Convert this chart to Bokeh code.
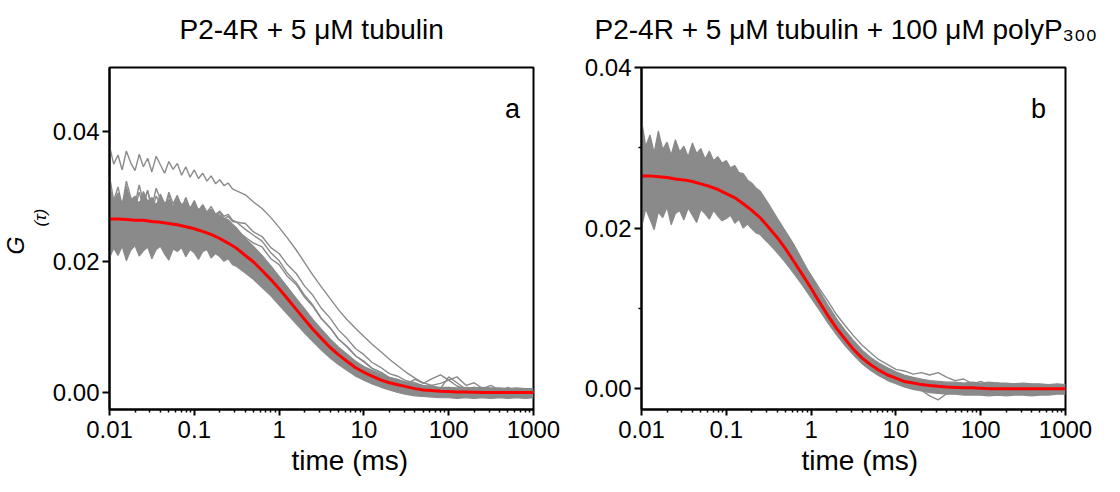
import numpy as np
from bokeh.plotting import figure
from bokeh.layouts import row
from bokeh.models import (FixedTicker, CustomJSTickFormatter, PrintfTickFormatter,
                          Label, Range1d, Title)
from bokeh.embed import file_html
from bokeh.resources import INLINE

# ---------------- data (G values in units of 1e-3) ----------------
# grid used by the fitted curves
time_ms = [0.01, 0.0125, 0.016, 0.02, 0.025, 0.0315, 0.04, 0.05, 0.063, 0.08,
           0.1, 0.125, 0.16, 0.2, 0.25, 0.315, 0.4, 0.5, 0.63, 0.8,
           1, 1.25, 1.6, 2, 2.5, 3.15, 4, 5, 6.3, 8,
           10, 12.5, 16, 20, 25, 31.5, 40, 50, 63, 80,
           100, 125, 160, 200, 250, 315, 400, 500, 630, 800, 1000]
# finer grid for the noisy early part of the measured traces (0.01 - 0.316 ms)
time_early = [0.01, 0.0112, 0.0126, 0.0141, 0.0158, 0.0178, 0.02, 0.0224,
              0.0251, 0.0282, 0.0316, 0.0355, 0.0398, 0.0447, 0.0501, 0.0562,
              0.0631, 0.0708, 0.0794, 0.0891, 0.1, 0.112, 0.126, 0.141, 0.158,
              0.178, 0.2, 0.224, 0.251, 0.282, 0.316]
# coarser grid for the later part (0.4 - 1000 ms)
time_late = [0.4, 0.5, 0.63, 0.8, 1, 1.25, 1.6, 2, 2.5, 3.15, 4, 5, 6.3, 8,
             10, 12.5, 16, 20, 25, 31.5, 40, 50, 63, 80, 100, 125, 160, 200,
             250, 315, 400, 500, 630, 800, 1000]

# ----- panel a -----
a_fit = [26.6, 26.6, 26.5, 26.4, 26.4, 26.2, 26.1, 25.9, 25.7, 25.4,
         25.1, 24.7, 24.2, 23.6, 22.9, 22.1, 21.0, 20.0, 18.7, 17.3,
         15.9, 14.4, 12.7, 11.2, 9.7, 8.3, 6.9, 5.8, 4.8, 3.8,
         3.1, 2.5, 1.9, 1.5, 1.2, 0.9, 0.6, 0.4, 0.3, 0.2,
         0.15, 0.1, 0.1, 0.05, 0.0, 0.0, 0.0, 0.0, 0.0, 0.0, 0.0]
a_band_lo_early = [20.6, 22.1, 21.0, 22.4, 20.2, 21.8, 22.5, 20.9, 21.7, 22.3,
                   20.5, 21.9, 22.4, 21.2, 20.3, 22.0, 21.6, 22.2, 20.8, 21.9,
                   21.4, 20.4, 21.6, 21.9, 20.6, 21.3, 20.8, 20.1, 20.5, 19.6, 19.3]
a_band_hi_early = [31.8, 29.2, 30.6, 28.9, 31.2, 29.5, 30.1, 28.7, 30.8, 29.3,
                   29.9, 28.6, 30.4, 29.0, 29.6, 28.5, 29.9, 28.8, 29.2, 28.3,
                   29.0, 28.0, 28.5, 27.6, 28.1, 27.3, 27.2, 26.7, 26.5, 25.8, 25.2]
a_band_lo_late = [18.3, 17.3, 16.1, 14.8, 13.4, 12.0, 10.5, 9.1, 7.8, 6.5,
                  5.3, 4.3, 3.4, 2.5, 1.9, 1.3, 0.8, 0.4, 0.0, -0.3,
                  -0.5, -0.6, -0.7, -0.8, -0.8, -0.9, -0.8, -0.9, -0.8, -0.9,
                  -0.8, -0.9, -0.8, -0.9, -0.8]
a_band_hi_late = [23.6, 22.4, 21.0, 19.4, 17.8, 16.2, 14.4, 12.8, 11.2, 9.7,
                  8.2, 7.0, 5.9, 4.8, 4.0, 3.4, 2.8, 2.3, 2.0, 1.6,
                  1.3, 1.1, 0.9, 0.8, 0.8, 0.7, 0.8, 0.7, 0.8, 0.7,
                  0.7, 0.6, 0.7, 0.6, 0.6]
a_trace1_early = [31.4, 28.6, 30.2, 27.9, 31.6, 29.0, 28.2, 30.7, 28.4, 31.0,
                  27.8, 30.1, 28.9, 27.6, 30.3, 28.2, 29.5, 27.5, 29.8, 28.0,
                  29.2, 27.4, 28.6, 27.1, 28.0, 27.0, 27.6, 26.6, 27.0, 26.2, 26.1]
a_trace1_late = [25.9, 24.6, 23.9, 22.2, 21.3, 19.6, 18.2, 16.3, 14.9, 12.9,
                 11.4, 9.6, 8.3, 6.7, 5.8, 4.6, 3.8, 2.9, 2.5, 1.8,
                 1.5, 1.0, 0.9, 0.4, 0.8, 0.2, 0.6, 0.0, 0.4, -0.1,
                 0.3, 0.0, 0.4, -0.1, 0.2]
a_trace2_early = [29.8, 27.0, 29.1, 26.5, 30.0, 27.6, 26.8, 29.3, 27.1, 28.6,
                  26.4, 29.0, 27.5, 26.3, 28.7, 26.9, 28.2, 26.2, 28.4, 26.6,
                  27.8, 26.0, 27.3, 25.8, 26.9, 25.6, 26.3, 25.5, 25.6, 24.9, 24.7]
a_trace2_late = [23.8, 22.9, 22.3, 20.5, 19.6, 17.8, 16.5, 14.6, 13.2, 11.3,
                 9.9, 8.2, 7.1, 5.6, 4.8, 3.7, 3.1, 2.3, 2.0, 1.4,
                 1.2, 0.8, 1.1, 0.6, 2.4, 1.5, 0.5, 0.8, 0.2, 0.6,
                 0.1, 0.5, 0.0, 0.4, 0.1]
a_trace3_early = [33.2, 29.4, 31.5, 28.6, 32.4, 29.9, 28.8, 31.8, 29.2, 30.9,
                  28.4, 31.3, 29.6, 28.3, 30.7, 28.9, 30.2, 28.2, 29.9, 28.1,
                  29.4, 27.9, 28.8, 27.6, 28.5, 27.3, 27.8, 27.0, 27.3, 26.4, 26.1]
a_trace3_late = [25.0, 24.1, 23.2, 21.4, 20.2, 18.3, 16.8, 14.9, 13.4, 11.4,
                 9.9, 8.2, 7.0, 5.6, 4.7, 3.7, 3.0, 2.2, 1.9, 1.3,
                 2.0, 1.4, 2.1, 2.7, 1.9, 2.4, 1.1, 1.5, 0.6, 1.1,
                 0.3, 0.8, 0.2, 0.6, 0.0]
a_top_early = [37.8, 35.0, 36.4, 34.1, 37.0, 35.2, 34.0, 36.5, 34.6, 35.9,
               33.8, 36.2, 34.9, 33.6, 35.4, 34.2, 35.1, 33.3, 34.6, 33.0,
               34.1, 32.8, 33.6, 32.4, 33.2, 32.0, 32.6, 31.7, 32.1, 31.2, 30.9]
a_top_late = [30.3, 29.2, 28.2, 26.8, 25.3, 23.7, 21.8, 19.9, 18.0, 16.2,
              14.4, 12.7, 11.2, 9.8, 8.6, 7.4, 6.2, 5.1, 4.1, 3.1,
              2.2, 1.5, 1.1, 1.4, 1.9, 1.0, 0.5, 0.8, 0.3, 0.6,
              0.2, 0.5, 0.1, 0.4, 0.2]

# ----- panel b -----
b_fit = [26.5, 26.5, 26.4, 26.3, 26.1, 26.0, 25.8, 25.5, 25.2, 24.8,
         24.3, 23.8, 23.0, 22.2, 21.3, 20.1, 18.8, 17.4, 15.8, 14.1,
         12.5, 10.8, 9.0, 7.5, 6.2, 4.9, 3.8, 3.0, 2.3, 1.7,
         1.3, 0.9, 0.7, 0.5, 0.4, 0.3, 0.2, 0.15, 0.1, 0.1,
         0.05, 0.0, 0.0, 0.0, 0.0, 0.0, 0.0, 0.0, 0.0, 0.0, 0.0]
b_band_lo_early = [20.0, 22.4, 21.1, 19.8, 22.0, 21.3, 22.6, 20.4, 21.8, 22.2,
                   21.0, 22.5, 21.6, 20.7, 22.3, 21.8, 21.1, 22.2, 21.5, 20.9,
                   21.2, 21.6, 20.6, 21.1, 20.0, 20.5, 19.9, 19.4, 19.2, 18.6, 18.1]
b_band_hi_early = [33.5, 30.2, 31.6, 29.4, 32.1, 29.8, 30.7, 29.1, 31.0, 29.5,
                   30.2, 28.9, 30.6, 29.3, 29.9, 28.6, 29.6, 28.4, 28.9, 28.1,
                   28.4, 27.5, 27.8, 26.9, 26.8, 26.0, 25.6, 25.0, 24.6, 23.8, 23.0]
b_band_lo_late = [16.9, 15.7, 14.3, 12.8, 11.3, 9.8, 8.1, 6.7, 5.4, 4.2,
                  3.1, 2.3, 1.6, 1.0, 0.6, 0.2, -0.1, -0.3, -0.5, -0.6,
                  -0.7, -0.7, -0.8, -0.8, -0.8, -0.9, -0.8, -0.9, -0.8, -0.8,
                  -0.9, -0.8, -0.8, -0.7, -0.7]
b_band_hi_late = [21.2, 19.6, 17.9, 15.9, 14.0, 12.2, 10.3, 8.7, 7.3, 6.0,
                  4.8, 3.9, 3.2, 2.6, 2.1, 1.7, 1.4, 1.2, 1.0, 0.9,
                  0.8, 0.8, 0.7, 0.8, 0.7, 0.8, 0.7, 0.7, 0.6, 0.7,
                  0.6, 0.6, 0.5, 0.6, 0.5]
b_trace1_early = [28.8, 25.4, 27.9, 24.6, 29.5, 26.2, 25.0, 28.4, 25.6, 27.8,
                  24.7, 28.2, 25.9, 24.8, 27.6, 25.2, 27.0, 24.5, 26.8, 24.4,
                  26.6, 23.9, 25.6, 23.5, 24.9, 23.2, 23.6, 22.6, 22.8, 21.6, 21.0]
b_trace1_late = [20.0, 18.6, 17.2, 15.6, 14.1, 12.5, 10.8, 9.2, 7.9, 6.6,
                 5.4, 4.5, 3.6, 3.0, 2.4, 2.2, 1.8, 2.0, 1.7, 2.0,
                 1.4, 1.0, 1.2, 0.6, 0.9, 0.5, 0.7, 0.3, 0.6, 0.2,
                 0.4, 0.1, 0.3, 0.0, 0.1]
b_trace2_early = [23.5, 27.2, 24.1, 27.8, 22.9, 26.4, 27.1, 23.6, 26.9, 24.2,
                  26.6, 23.0, 25.8, 26.7, 23.4, 26.2, 24.0, 26.5, 22.8, 25.6,
                  23.2, 25.1, 22.4, 24.6, 21.8, 23.3, 22.1, 21.6, 21.2, 20.4, 19.6]
b_trace2_late = [18.0, 16.8, 15.2, 13.7, 12.0, 10.4, 8.8, 7.2, 6.0, 4.8,
                 3.8, 3.1, 2.7, 2.2, 1.8, 1.0, 0.4, -0.2, -0.9, -1.4,
                 -0.6, -0.2, 0.3, -0.3, 0.2, -0.4, 0.1, -0.3, 0.0, -0.4,
                 -0.1, -0.3, 0.0, -0.4, -0.2]

x_major = [0.01, 0.1, 1, 10, 100, 1000]
x_labels = ["0.01", "0.1", "1", "10", "100", "1000"]
y_major = [0.0, 0.02, 0.04]

title_a = "P2-4R + 5 μM tubulin"
title_b = "P2-4R + 5 μM tubulin + 100 μM polyP₃₀₀"
x_title = "time (ms)"
y_title_main = "G"
y_title_sub = "(τ)"

FONT = "Liberation Sans"
GRAY = "#8a8a8a"

time_trace = time_early + time_late


def milli(v):
    return np.array(v, dtype=float) * 1e-3


def style_axes(p, y_minor):
    p.grid.visible = False
    p.outline_line_color = "black"
    p.outline_line_width = 2
    p.background_fill_color = "white"
    p.border_fill_color = "white"
    x_minor = [m * 10.0 ** k for k in range(-2, 3) for m in range(2, 10)]
    p.xaxis.ticker = FixedTicker(ticks=x_major, minor_ticks=x_minor)
    p.xaxis.formatter = CustomJSTickFormatter(
        args=dict(labels=x_labels),
        code="const e = Math.round(Math.log10(tick)); return labels[e + 2];")
    p.yaxis.ticker = FixedTicker(ticks=y_major, minor_ticks=y_minor)
    p.yaxis.formatter = PrintfTickFormatter(format="%.2f")
    for ax in (p.xaxis[0], p.yaxis[0]):
        ax.axis_line_width = 2
        ax.axis_line_color = "black"
        ax.major_tick_line_width = 2
        ax.major_tick_line_color = "black"
        ax.major_tick_in = 0
        ax.minor_tick_line_width = 1.5
        ax.minor_tick_line_color = "black"
        ax.minor_tick_in = 0
        ax.minor_tick_out = 3
        ax.major_label_text_font = FONT
        ax.major_label_text_font_size = "24px"
        ax.major_label_text_color = "black"
    p.xaxis.major_tick_out = 6
    p.xaxis.major_label_standoff = 5
    p.yaxis.major_tick_out = 7
    p.yaxis.major_label_standoff = 3


def title(p, text, side, size, offset=0, standoff=0, style="normal"):
    p.add_layout(Title(text=text, align="left", offset=offset,
                       standoff=standoff, text_font=FONT, text_font_size=size,
                       text_font_style=style, text_color="black"), side)


def make_panel(width, ytop, border_left, border_right, band_lo, band_hi,
               traces, fit, y_minor):
    p = figure(width=width, height=490, x_axis_type="log",
               x_range=Range1d(0.01, 1000), y_range=Range1d(-0.0026, ytop),
               output_backend="svg", toolbar_location=None,
               min_border_left=border_left, min_border_right=border_right,
               min_border_top=67, min_border_bottom=81)
    p.varea(x=time_trace, y1=milli(band_lo), y2=milli(band_hi),
            fill_color=GRAY, fill_alpha=1.0)
    p.line(time_trace, milli(band_lo), line_color=GRAY, line_width=1.2)
    p.line(time_trace, milli(band_hi), line_color=GRAY, line_width=1.2)
    for tr in traces:
        p.line(time_trace, milli(tr), line_color=GRAY, line_width=1.4)
    p.line(time_ms, milli(fit), line_color="#ff0000", line_width=3)
    style_axes(p, y_minor)
    return p


pa = make_panel(560, 0.0498, 109, 27,
                a_band_lo_early + a_band_lo_late,
                a_band_hi_early + a_band_hi_late,
                [a_trace1_early + a_trace1_late,
                 a_trace2_early + a_trace2_late,
                 a_trace3_early + a_trace3_late,
                 a_top_early + a_top_late], a_fit, [])
pb = make_panel(552, 0.0400, 81, 47,
                b_band_lo_early + b_band_lo_late,
                b_band_hi_early + b_band_hi_late,
                [b_trace1_early + b_trace1_late,
                 b_trace2_early + b_trace2_late], b_fit, [0.01, 0.03])

# panel a texts (spacer title first, nearest the frame)
title(pa, " ", "above", "19px")
title(pa, title_a, "above", "28px", offset=70)
title(pa, x_title, "below", "28px", offset=182, standoff=4)
title(pa, y_title_sub, "left", "17px", offset=183, style="italic")
title(pa, y_title_main, "left", "23px", offset=155, style="italic")
pa.add_layout(Label(x=403, y=301, x_units="screen", y_units="screen", text="a",
                    text_font=FONT, text_font_size="27px", text_align="center",
                    text_baseline="alphabetic", text_color="black"))

# panel b texts
title(pb, " ", "above", "19px")
title(pb, title_b, "above", "28px", offset=-47)
title(pb, x_title, "below", "28px", offset=160, standoff=4)
pb.add_layout(Label(x=397, y=301, x_units="screen", y_units="screen", text="b",
                    text_font=FONT, text_font_size="27px", text_align="center",
                    text_baseline="alphabetic", text_color="black"))

layout = row(pa, pb)
open("out.html", "w").write(file_html(layout, INLINE))
